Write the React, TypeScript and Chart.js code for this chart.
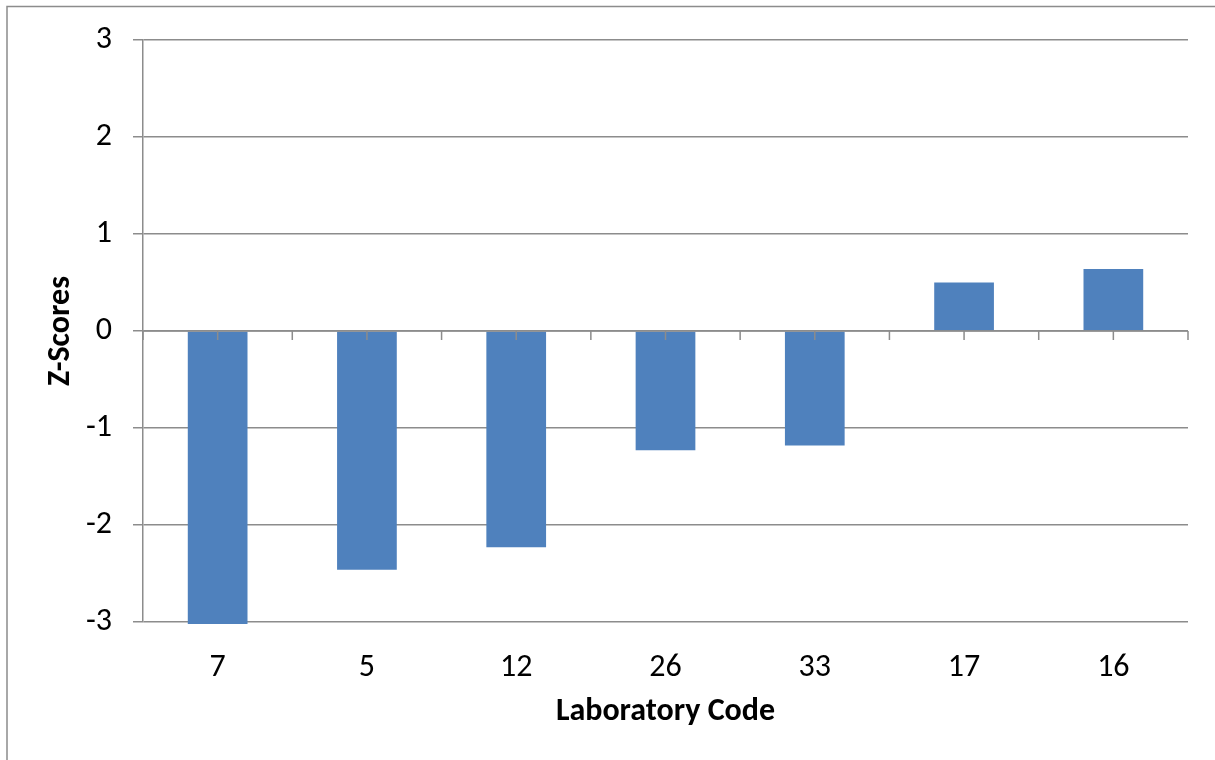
import React, { useEffect, useRef } from "react";
import { Chart, registerables } from "chart.js";

Chart.register(...registerables);

const labCodes = ["7", "5", "12", "26", "33", "17", "16"];
const zScores = [-3.02, -2.46, -2.23, -1.23, -1.18, 0.5, 0.64];
const yMin = -3;
const yMax = 3;
const yStep = 1;
const xTitle = "Laboratory Code";
const yTitle = "Z-Scores";

const FONT = "Carlito, Calibri, Lato, 'Open Sans', sans-serif";
const GRID = "#8c8c8c";
const BAR = "#4f81bd";

const zeroAxisPlugin = {
  id: "zeroAxis",
  afterDatasetsDraw(chart: any) {
    const { ctx, chartArea, scales } = chart;
    const x = scales.x;
    const y = scales.y;
    const y0 = y.getPixelForValue(0);
    const n = labCodes.length;
    const cw = (chartArea.right - chartArea.left) / n;
    ctx.save();
    ctx.strokeStyle = GRID;
    ctx.lineWidth = 1.5;
    ctx.beginPath();
    ctx.moveTo(chartArea.left, y0);
    ctx.lineTo(chartArea.right, y0);
    for (let i = 0; i <= n; i++) {
      const bx = chartArea.left + i * cw;
      ctx.moveTo(bx, y0);
      ctx.lineTo(bx, y0 + 9);
    }
    for (let i = 0; i < n; i++) {
      const cx = x.getPixelForValue(i);
      ctx.moveTo(cx, y0);
      ctx.lineTo(cx, y0 + 9);
    }
    ctx.stroke();
    ctx.restore();
  },
};

const frameBorderPlugin = {
  id: "frameBorder",
  beforeDraw(chart: any) {
    const { ctx, width, height } = chart;
    ctx.save();
    ctx.fillStyle = "#ffffff";
    ctx.fillRect(0, 0, width, height);
    ctx.strokeStyle = GRID;
    ctx.lineWidth = 1.5;
    ctx.beginPath();
    ctx.moveTo(7, height + 2);
    ctx.lineTo(7, 6.5);
    ctx.lineTo(width + 2, 6.5);
    ctx.stroke();
    ctx.restore();
  },
};

export default function App() {
  const ref = useRef<HTMLCanvasElement | null>(null);
  useEffect(() => {
    if (!ref.current) return;
    const chart = new Chart(ref.current, {
      type: "bar",
      data: {
        labels: labCodes,
        datasets: [
          {
            data: zScores,
            backgroundColor: BAR,
            borderWidth: 0,
            barPercentage: 0.4,
            categoryPercentage: 1,
            clip: false as any,
          },
        ],
      },
      options: {
        animation: false,
        responsive: false,
        layout: { padding: { left: 38, top: 40, right: 27, bottom: 25 } },
        plugins: { legend: { display: false }, tooltip: { enabled: false } },
        scales: {
          x: {
            grid: { display: false },
            border: { display: false },
            ticks: { color: "#000", font: { family: FONT, size: 32 }, padding: 19 },
            title: {
              display: true,
              text: xTitle,
              color: "#000",
              font: { family: FONT, size: 32, weight: "bold" },
              padding: { top: 4, bottom: 4 },
            },
            afterFit(s: any) {
              s.height = 113;
            },
          },
          y: {
            min: yMin,
            max: yMax,
            grid: { color: GRID, lineWidth: 1.5, tickLength: 10, tickColor: GRID },
            border: { display: true, color: GRID, width: 1.5 },
            ticks: {
              stepSize: yStep,
              color: "#000",
              font: { family: FONT, size: 32 },
              padding: 21,
            },
            title: {
              display: true,
              text: yTitle,
              color: "#000",
              font: { family: FONT, size: 32, weight: "bold" },
              padding: { top: 4, bottom: 4 },
            },
            afterFit(s: any) {
              s.width = 105;
            },
          },
        },
      },
      plugins: [frameBorderPlugin, zeroAxisPlugin],
    });
    return () => chart.destroy();
  }, []);
  return (
    <div style={{ position: "fixed", left: 0, top: 0, width: 1215, height: 760, background: "#fff" }}>
      <canvas ref={ref} width={1215} height={760} style={{ width: 1215, height: 760, display: "block" }} />
    </div>
  );
}
